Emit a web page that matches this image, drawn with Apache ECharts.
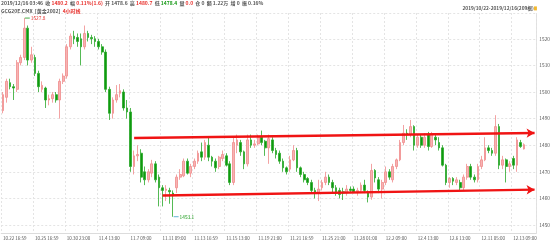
<!DOCTYPE html>
<html><head><meta charset="utf-8">
<script src="https://cdn.jsdelivr.net/npm/echarts@6/dist/echarts.min.js"></script>
<style>html,body{margin:0;padding:0;background:#fff}#c{width:553px;height:242px}</style>
</head><body><div id="c"></div>
<script>
// tick labels on the time axis (one every 9 bars)
const tickLabels = ['10.22 16:59','10.25 16:59','10.30 23:00','11.4 13:00','11.7 09:00','11.11 09:00','11.13 16:59','11.15 13:00','11.19 21:00','11.21 16:59','11.25 21:00','11.28 01:00','12.2 09:00','12.4 13:00','12.6 13:00','12.11 05:00','12.13 09:00'];
const barsPerTick = 9;
const slotCount = 151;
// 4-hour OHLC
const open = [1493,1498,1503.5,1502,1501,1511,1513,1524,1512,1513,1507,1501,1501.5,1497,1497.5,1499,1497,1504,1506,1517,1521,1520.5,1520,1517,1522,1520.5,1520,1519,1517,1515,1501,1492,1497,1499.5,1500,1494,1492.5,1472,1476,1477,1470,1467,1469.5,1473,1468,1464,1463,1463,1462,1464,1468,1468.5,1474,1469.5,1472,1474,1477.5,1475.5,1480,1475.5,1474,1472,1475,1476,1473,1466,1480,1481,1477.5,1473,1482,1480,1480.5,1483,1481.5,1479,1482,1478,1477,1474,1471.5,1471,1474.5,1478,1471.5,1469,1467.5,1466,1463,1462,1464,1466,1468,1466,1464,1463,1462.5,1462,1463.5,1463.5,1462.5,1463,1465,1462,1460.5,1470.5,1467,1463.5,1466,1470,1467,1472,1474.5,1481,1484.5,1484,1487,1480,1483,1480,1484,1479.5,1483,1481,1479,1472.5,1466,1467.5,1466,1466,1464,1468,1472,1468,1467,1472,1474.5,1479,1478,1477,1487,1472.5,1474.5,1472,1475,1472.5,1481,1478.6];
const close = [1499,1504,1502,1501.5,1511,1513,1524,1512,1514,1507,1502,1502.5,1497,1497.5,1499,1497,1504,1506,1517,1521,1520,1519,1517,1522,1520.5,1520,1519,1517,1515,1501,1492,1497,1499,1500.5,1494,1492.5,1472,1476,1476.5,1468,1467,1470,1473,1467,1464,1463,1463.5,1462.5,1461,1468,1469,1474,1469.5,1472,1474,1477,1475.5,1481,1475.5,1474,1471.5,1475.5,1476.5,1472.5,1466,1481,1482,1477.5,1473,1482,1480,1480.5,1483,1481,1479,1482.5,1478,1476.5,1474,1471.5,1470,1474.5,1478,1471.5,1469,1467,1466,1463,1462,1463.5,1466,1468,1466,1464,1462.5,1461.5,1462,1463.5,1463,1462.5,1463,1465,1463,1460.5,1470.5,1467.7,1463.5,1466,1470,1468,1472,1474.5,1481,1484.5,1484,1487,1480,1483,1480,1483,1479.5,1484,1482,1479,1472.5,1466,1467.5,1466.5,1467,1464,1468,1472,1468,1467,1472,1474.5,1479,1478,1477,1487,1472.5,1474.5,1472,1473,1472.5,1482,1479.5,1480.2];
const low = [1492,1496,1501,1497,1500,1510,1512,1510,1511,1506,1500,1500,1494,1495,1496,1496,1490,1503,1505,1516,1518,1517,1510,1516,1519,1518,1517,1516,1514,1500,1489.5,1490,1496,1498,1493,1490,1470,1469,1474,1466,1465,1466,1468,1466,1457,1457,1459,1458,1453.1,1462,1467,1468,1469,1468,1471,1473,1474,1474.5,1474,1472,1470,1471,1474,1472,1465,1465,1477,1476,1471,1472,1479,1479,1480,1480,1476,1473,1477,1475,1473,1470,1469,1470,1474,1470,1468,1466,1465,1462,1460,1459,1463,1465,1465,1462,1461,1460,1459.4,1461,1462,1462,1461,1462,1462,1458.5,1459.5,1466,1462,1460,1465,1467,1466,1471,1474,1480,1482,1483,1478,1479,1479,1479,1478,1479,1480,1478,1472,1465,1464,1465,1465,1463,1463,1467,1467,1466,1466,1471,1474,1477,1476,1476,1471,1471,1466,1470,1471,1470,1479,1478.4];
const high = [1500,1505,1505,1503,1512,1514,1527.8,1525,1517,1514,1508,1504,1502,1499,1500,1500,1505,1507,1518,1522,1523,1522,1522,1525,1523,1521.5,1521,1520,1518,1516,1502,1498,1502.6,1503,1501,1497,1494,1478,1480,1478.5,1472,1471,1474.5,1474,1469,1465,1465,1464,1463,1469,1471,1475,1475,1473,1475,1478,1481,1482,1483,1476,1475,1476,1478,1477,1474,1483,1484,1482,1478,1484,1484,1482,1484,1485.5,1482,1484,1483,1479,1478,1475,1472,1476,1480,1479,1472,1470,1468,1467,1464,1467,1467,1470,1469,1467,1465,1464,1464,1465,1464.5,1464.5,1464,1466,1467,1463,1473,1471,1468,1467,1472,1471,1473,1475,1482,1487.6,1486,1489.5,1487.5,1484,1484,1484.5,1485,1485,1484,1483,1480,1473,1468,1468,1468,1467,1469,1473,1473,1469,1473,1476,1483,1480,1479,1491.3,1488,1476,1475,1474,1476,1483,1482,1480.7];
// extremes annotated on the chart: [bar index, price]
const highMark = [6, 1527.8];
const lowMark = [48, 1453.1];
// drawn channel (arrows): [bar index, price]
const upperArrow = [[36.9, 1482.7], [150, 1484.6]];
const lowerArrow = [[45.3, 1461.1], [150, 1463.3]];

const categories = [];
for (let i = 0; i < slotCount; i++) {
  categories.push(i % barsPerTick === 0 && tickLabels[i / barsPerTick] ? tickLabels[i / barsPerTick] : String(i));
}
const ohlc = open.map((o, i) => [o, close[i], low[i], high[i]]);

const RED = '#e8302c', GREEN = '#189a18', GREY = '#555';
const FONT = '"Noto Sans CJK SC", "Noto Sans", sans-serif';
const chart = echarts.init(document.getElementById('c'), null, {renderer: 'canvas'});
chart.setOption({
  animation: false,
  textStyle: {fontFamily: FONT},
  title: [
    {
      left: 1, top: 1, padding: 0,
      text: '{g|2019/12/16 03:46  收 }{r|1480.2}{g|  幅 }{r|0.11%(1.6)}{g|  开 1478.6  高 }{r|1480.7}{g|  低 }{gr|1478.4}{g|  量 }{r|0.0}{g|  仓 0  额 1.22万  增 0  振 0.16%}',
      textStyle: {rich: {
        g: {fontSize: 5, color: GREY, fontFamily: FONT},
        r: {fontSize: 5, color: RED, fontFamily: FONT},
        gr: {fontSize: 5, color: GREEN, fontFamily: FONT}
      }}
    },
    {
      left: 1, top: 9, padding: 0,
      text: '{g|GCG20E.CMX  [黄金2002]  }{r|4小时线}',
      textStyle: {rich: {
        g: {fontSize: 5, color: GREY, fontFamily: FONT},
        r: {fontSize: 5, color: RED, fontFamily: FONT}
      }}
    },
    {
      right: 15, top: 6, padding: 0,
      text: '{g|2019/10/22-2019/12/16(209根)}{i| }',
      textStyle: {rich: {
        g: {fontSize: 4.8, color: GREY, fontFamily: FONT},
        i: {width: 3, height: 4, backgroundColor: '#f2b830'}
      }}
    }
  ],
  grid: {left: 0, right: 16, top: 13, bottom: 9, containLabel: false},
  xAxis: {
    type: 'category', data: categories, boundaryGap: true,
    axisLine: {show: true, lineStyle: {color: '#dcdcdc'}},
    axisTick: {show: false, interval: barsPerTick - 1},
    axisLabel: {interval: barsPerTick - 1, align: 'left', fontSize: 4.5, color: GREY, margin: 3, fontFamily: FONT},
    splitLine: {show: true, interval: barsPerTick - 1, lineStyle: {color: '#e4e4e4', type: [2, 2], width: 1}}
  },
  yAxis: {
    type: 'value', position: 'right', scale: true, min: 1447, max: 1529.7, splitNumber: 8,
    axisLine: {show: true, lineStyle: {color: '#e0e0e0', type: [2, 2]}},
    axisTick: {show: false},
    axisLabel: {fontSize: 4.8, color: GREY, margin: 3, fontFamily: FONT,
      formatter: v => (Math.abs(v % 10) < 1e-6 ? String(v) : '')},
    splitLine: {show: true, lineStyle: {color: '#e4e4e4', type: [2, 2], width: 1}}
  },
  series: [{
    type: 'candlestick', data: ohlc, barWidth: 2.2,
    itemStyle: {color: '#f7b3b3', borderColor: '#f08c8c', color0: '#0f9a0f', borderColor0: '#2aa82a', borderWidth: 0.8},
    markPoint: {
      silent: true,
      symbol: 'rect', symbolSize: [5, 0.8], symbolOffset: [3, 0],
      data: [
        {coord: highMark, value: highMark[1], itemStyle: {color: GREEN},
          label: {show: true, position: 'right', distance: 1, formatter: '{c}', fontSize: 4.8, color: RED, fontFamily: FONT}},
        {coord: lowMark, value: lowMark[1], itemStyle: {color: '#3aa0c8'},
          label: {show: true, position: 'right', distance: 1, formatter: '{c}', fontSize: 4.8, color: GREEN, fontFamily: FONT}}
      ]
    },
    markLine: {
      silent: true, symbol: ['none', 'arrow'], symbolSize: [7, 8],
      label: {show: false},
      lineStyle: {color: '#f01414', width: 2.4, type: 'solid'},
      emphasis: {disabled: true},
      data: [
        [{coord: upperArrow[0]}, {coord: upperArrow[1]}],
        [{coord: lowerArrow[0]}, {coord: lowerArrow[1]}]
      ]
    }
  }]
});
</script></body></html>
